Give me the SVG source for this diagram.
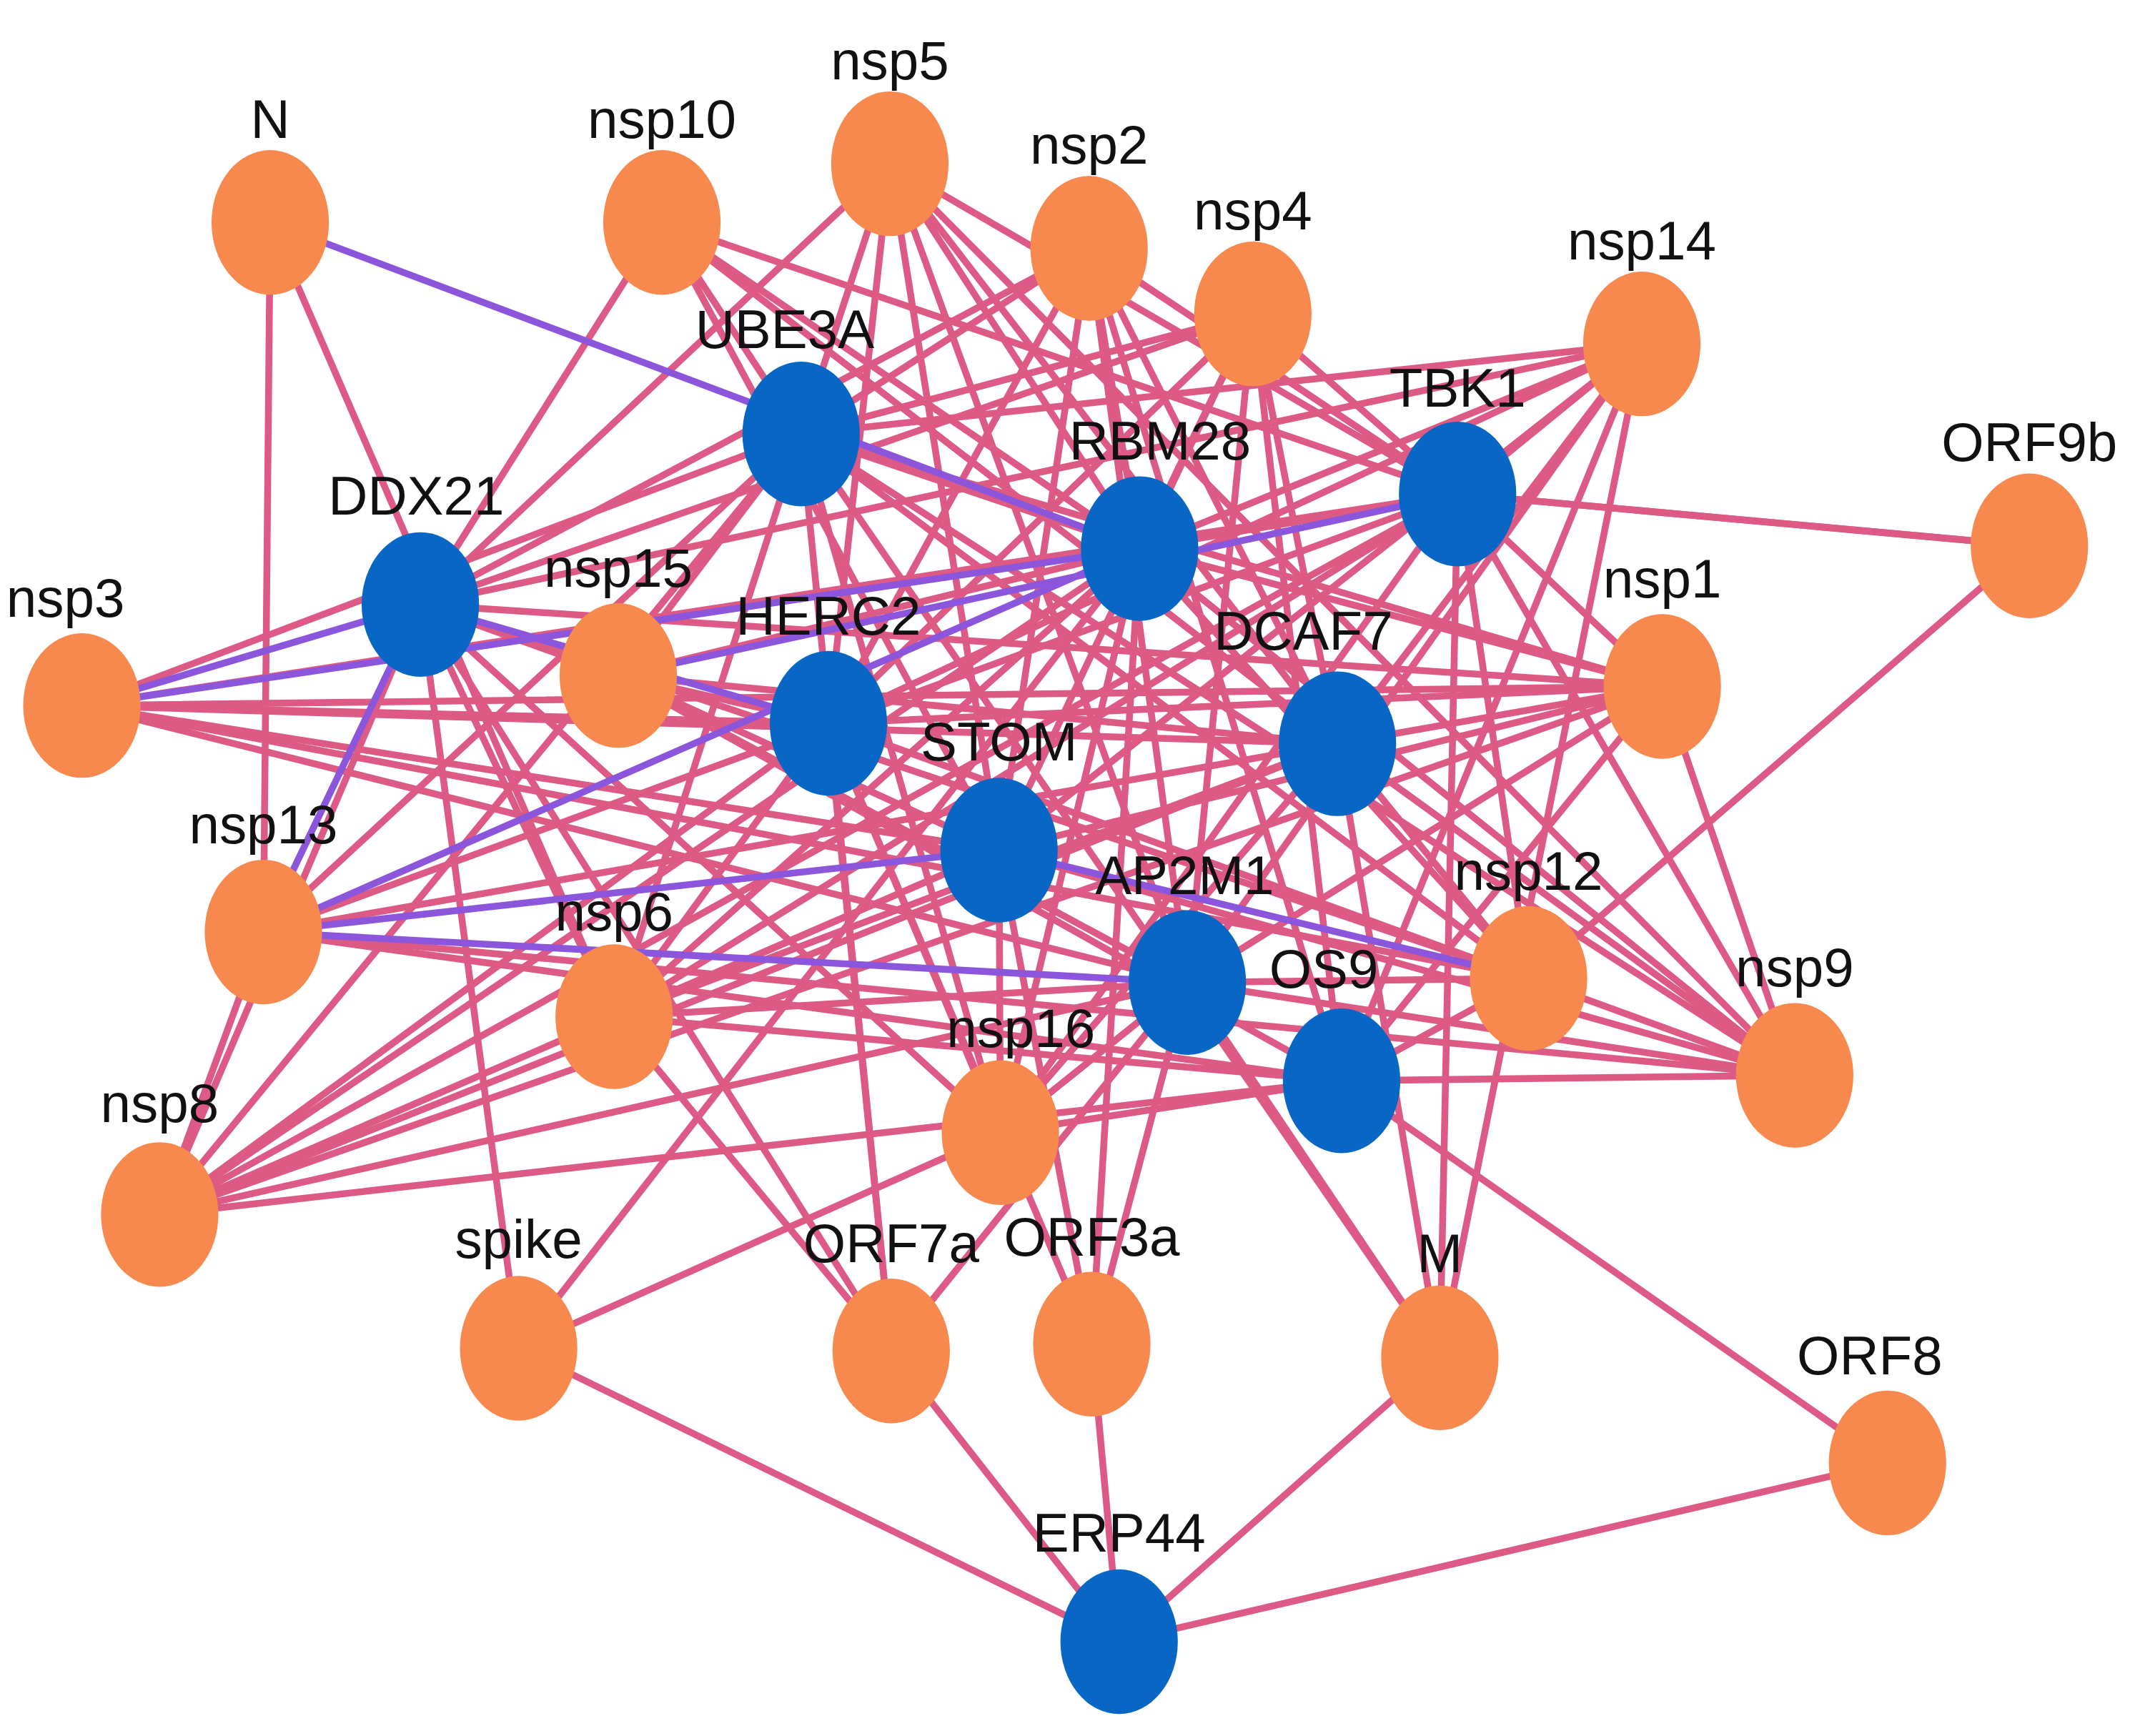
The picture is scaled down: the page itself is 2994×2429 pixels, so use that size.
<svg xmlns="http://www.w3.org/2000/svg" width="2994" height="2429" viewBox="0 0 2994 2429">
<style>
.e{fill:none;stroke:#dc5a84;stroke-width:5;stroke-linecap:round}
.p{fill:none;stroke:#8b55dc;stroke-width:5;stroke-linecap:round}
.o{fill:#f7884e}
.b{fill:#0867c4}
text{font-family:"Liberation Sans",Arial,sans-serif;font-size:40px;fill:#111;text-anchor:middle}
</style>
<rect width="2994" height="2429" fill="#fff"/>
<g transform="scale(1.9094)">
<g id="connectors">
<path class="e" id="e-UBE3A" d="M587 318L485 163M587 318L652 120M587 318L798 182M587 318L918 230M587 318L1203 252M587 318L60 517M587 318L453 495M587 318L1218 503M587 318L193 683M587 318L450 745M587 318L1120 717M587 318L1315 788M587 318L733 830M587 318L117 890M587 318L653 990M587 318L1055 995M587 318L835 402"/>
<path class="e" id="e-RBM28" d="M835 402L485 163M835 402L652 120M835 402L798 182M835 402L918 230M835 402L1203 252M835 402L453 495M835 402L1218 503M835 402L450 745M835 402L1120 717M835 402L1315 788M835 402L733 830M835 402L117 890M835 402L800 985M835 402L380 988M835 402L1068 362"/>
<path class="e" id="e-TBK1" d="M1068 362L485 163M1068 362L652 120M1068 362L798 182M1068 362L918 230M1068 362L1203 252M1068 362L1487 400M1068 362L60 517M1068 362L1218 503M1068 362L193 683M1068 362L450 745M1068 362L1120 717M1068 362L1315 788M1068 362L733 830M1068 362L117 890M1068 362L1055 995"/>
<path class="e" id="e-DDX21" d="M308 443L485 163M308 443L652 120M308 443L798 182M308 443L918 230M308 443L1203 252M308 443L453 495M308 443L1218 503M308 443L450 745M308 443L1120 717M308 443L733 830M308 443L117 890M308 443L380 988M308 443L653 990"/>
<path class="e" id="e-HERC2" d="M607 530L652 120M607 530L798 182M607 530L918 230M607 530L1203 252M607 530L60 517M607 530L453 495M607 530L1218 503M607 530L450 745M607 530L1120 717M607 530L1315 788M607 530L733 830M607 530L117 890M607 530L653 990M607 530L800 985"/>
<path class="e" id="e-DCAF7" d="M980 545L485 163M980 545L652 120M980 545L798 182M980 545L918 230M980 545L1203 252M980 545L60 517M980 545L453 495M980 545L1218 503M980 545L193 683M980 545L450 745M980 545L1120 717M980 545L1315 788M980 545L733 830M980 545L117 890M980 545L1055 995"/>
<path class="e" id="e-STOM" d="M732 623L485 163M732 623L652 120M732 623L798 182M732 623L918 230M732 623L1203 252M732 623L60 517M732 623L453 495M732 623L1218 503M732 623L450 745M732 623L1315 788M732 623L733 830M732 623L117 890M732 623L800 985"/>
<path class="e" id="e-AP2M1" d="M870 720L652 120M870 720L798 182M870 720L918 230M870 720L1203 252M870 720L60 517M870 720L453 495M870 720L1218 503M870 720L450 745M870 720L1120 717M870 720L1315 788M870 720L733 830M870 720L117 890M870 720L653 990M870 720L800 985M870 720L1055 995"/>
<path class="e" id="e-OS9" d="M983 792L798 182M983 792L918 230M983 792L1203 252M983 792L453 495M983 792L1218 503M983 792L193 683M983 792L450 745M983 792L1120 717M983 792L1315 788M983 792L733 830M983 792L117 890M983 792L1383 1072"/>
<path class="e" id="e-ERP44" d="M820 1203L380 988M820 1203L653 990M820 1203L800 985M820 1203L1055 995M820 1203L1383 1072"/>
<path class="e" id="e-other" d="M198 163L450 745M198 163L193 683M1487 400L1120 717M1487 400L1068 362M1203 252L1055 995M117 890L193 683M60 517L1218 503M60 517L1120 717M193 683L1315 788M117 890L1218 503M450 745L653 990M380 988L733 830M1218 503L1315 788M652 120L1315 788"/>
<path class="p" id="e-purple" d="M198 163L835 402M60 517L835 402M60 517L308 443M308 443L193 683M193 683L835 402M193 683L732 623M193 683L870 720M308 443L607 530M732 623L1120 717M453 495L1068 362"/>
</g>
<g id="n-N"><ellipse class="o" cx="198" cy="163" rx="43" ry="53"/><text x="198" y="101">N</text></g>
<g id="n-nsp10"><ellipse class="o" cx="485" cy="163" rx="43" ry="53"/><text x="485" y="101">nsp10</text></g>
<g id="n-nsp5"><ellipse class="o" cx="652" cy="120" rx="43" ry="53"/><text x="652" y="58">nsp5</text></g>
<g id="n-nsp2"><ellipse class="o" cx="798" cy="182" rx="43" ry="53"/><text x="798" y="120">nsp2</text></g>
<g id="n-nsp4"><ellipse class="o" cx="918" cy="230" rx="43" ry="53"/><text x="918" y="168">nsp4</text></g>
<g id="n-nsp14"><ellipse class="o" cx="1203" cy="252" rx="43" ry="53"/><text x="1203" y="190">nsp14</text></g>
<g id="n-ORF9b"><ellipse class="o" cx="1487" cy="400" rx="43" ry="53"/><text x="1487" y="338">ORF9b</text></g>
<g id="n-nsp3"><ellipse class="o" cx="60" cy="517" rx="43" ry="53"/><text x="48" y="452">nsp3</text></g>
<g id="n-nsp15"><ellipse class="o" cx="453" cy="495" rx="43" ry="53"/><text x="453" y="430">nsp15</text></g>
<g id="n-nsp1"><ellipse class="o" cx="1218" cy="503" rx="43" ry="53"/><text x="1218" y="438">nsp1</text></g>
<g id="n-nsp13"><ellipse class="o" cx="193" cy="683" rx="43" ry="53"/><text x="193" y="618">nsp13</text></g>
<g id="n-nsp6"><ellipse class="o" cx="450" cy="745" rx="43" ry="53"/><text x="450" y="682">nsp6</text></g>
<g id="n-nsp12"><ellipse class="o" cx="1120" cy="717" rx="43" ry="53"/><text x="1120" y="652">nsp12</text></g>
<g id="n-nsp9"><ellipse class="o" cx="1315" cy="788" rx="43" ry="53"/><text x="1315" y="723">nsp9</text></g>
<g id="n-nsp16"><ellipse class="o" cx="733" cy="830" rx="43" ry="53"/><text x="748" y="767">nsp16</text></g>
<g id="n-nsp8"><ellipse class="o" cx="117" cy="890" rx="43" ry="53"/><text x="117" y="822">nsp8</text></g>
<g id="n-spike"><ellipse class="o" cx="380" cy="988" rx="43" ry="53"/><text x="380" y="922">spike</text></g>
<g id="n-ORF7a"><ellipse class="o" cx="653" cy="990" rx="43" ry="53"/><text x="653" y="925">ORF7a</text></g>
<g id="n-ORF3a"><ellipse class="o" cx="800" cy="985" rx="43" ry="53"/><text x="800" y="920">ORF3a</text></g>
<g id="n-M"><ellipse class="o" cx="1055" cy="995" rx="43" ry="53"/><text x="1055" y="932">M</text></g>
<g id="n-ORF8"><ellipse class="o" cx="1383" cy="1072" rx="43" ry="53"/><text x="1370" y="1007">ORF8</text></g>
<g id="n-UBE3A"><ellipse class="b" cx="587" cy="318" rx="43" ry="53"/><text x="575" y="255">UBE3A</text></g>
<g id="n-RBM28"><ellipse class="b" cx="835" cy="402" rx="43" ry="53"/><text x="850" y="337">RBM28</text></g>
<g id="n-TBK1"><ellipse class="b" cx="1068" cy="362" rx="43" ry="53"/><text x="1068" y="298">TBK1</text></g>
<g id="n-DDX21"><ellipse class="b" cx="308" cy="443" rx="43" ry="53"/><text x="305" y="377">DDX21</text></g>
<g id="n-HERC2"><ellipse class="b" cx="607" cy="530" rx="43" ry="53"/><text x="607" y="465">HERC2</text></g>
<g id="n-DCAF7"><ellipse class="b" cx="980" cy="545" rx="43" ry="53"/><text x="955" y="476">DCAF7</text></g>
<g id="n-STOM"><ellipse class="b" cx="732" cy="623" rx="43" ry="53"/><text x="732" y="557">STOM</text></g>
<g id="n-AP2M1"><ellipse class="b" cx="870" cy="720" rx="43" ry="53"/><text x="868" y="655">AP2M1</text></g>
<g id="n-OS9"><ellipse class="b" cx="983" cy="792" rx="43" ry="53"/><text x="970" y="724">OS9</text></g>
<g id="n-ERP44"><ellipse class="b" cx="820" cy="1203" rx="43" ry="53"/><text x="820" y="1137">ERP44</text></g>
</g>
</svg>
